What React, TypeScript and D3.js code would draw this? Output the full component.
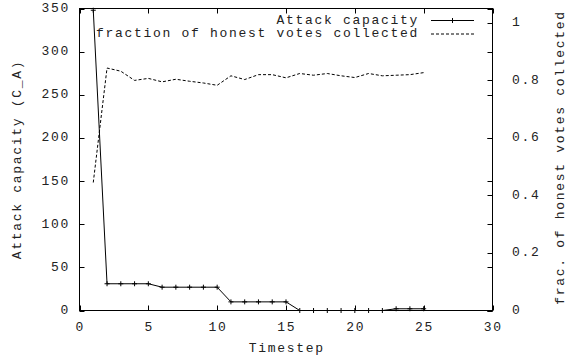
import React from "react";
import * as d3 from "d3";

const steps = [1, 2, 3, 4, 5, 6, 7, 8, 9, 10, 11, 12, 13, 14, 15, 16, 17, 18, 19, 20, 21, 22, 23, 24, 25];
const attackCapacity = [348, 31, 31, 31, 31, 27, 27, 27, 27, 27, 10, 10, 10, 10, 10, 0, 0, 0, 0, 0, 0, 0, 2, 2, 2];
const honestFraction = [0.445, 0.843, 0.832, 0.8, 0.807, 0.795, 0.804, 0.797, 0.791, 0.783, 0.816, 0.803, 0.82, 0.82, 0.809, 0.824, 0.818, 0.824, 0.816, 0.81, 0.824, 0.816, 0.818, 0.82, 0.827];
const xTicks = [0, 5, 10, 15, 20, 25, 30];
const yTicks = [0, 50, 100, 150, 200, 250, 300, 350];
const y2Ticks = [0, 0.2, 0.4, 0.6, 0.8, 1];
const y2TickLabels = ["0", "0.2", "0.4", "0.6", "0.8", "1"];
const seriesNames = ["Attack capacity", "fraction of honest votes collected"];
const xTitle = "Timestep";
const yTitle = "Attack capacity (C_A)";
const y2Title = "frac. of honest votes collected";

const W = 570, H = 356;
const L = 79.5, R = 492.5, T = 8.5, B = 310.5;
const FONT = "'Liberation Mono', 'DejaVu Sans Mono', monospace";
const FS = 13;
const LS = 1.7;

export default function App() {
  const x = d3.scaleLinear().domain([0, 30]).range([L, R]);
  const y = d3.scaleLinear().domain([0, 350]).range([B, T]);
  const y2 = d3.scaleLinear().domain([0, 1.05]).range([B, T]);
  const tl = 5;

  const attackLine = d3.line<number>().x((_, i) => x(steps[i])).y((d) => y(d))(attackCapacity) || "";
  const fracLine = d3.line<number>().x((_, i) => x(steps[i])).y((d) => y2(d))(honestFraction) || "";

  const textStyle = { fontFamily: FONT, fontSize: FS, letterSpacing: LS, fill: "#222" } as React.CSSProperties;
  const plus = (cx: number, cy: number, k: string) => (
    <path key={k} d={`M${cx - 2.5},${cy}H${cx + 2.5}M${cx},${cy - 2.5}V${cy + 2.5}`} stroke="#000" strokeWidth={1} />
  );

  const keyTextX = 419;
  const keyY1 = 20;
  const keyY2 = 33.5;
  const sampleX1 = 431, sampleX2 = 474;

  return (
    <svg width={W} height={H} style={{ position: "absolute", left: 0, top: 0, background: "#fff" }}>
      <rect x={0} y={0} width={W} height={H} fill="#fff" />
      <g stroke="#000" strokeWidth={1}>
        {xTicks.map((t) => (
          <g key={"xt" + t}>
            <line x1={Math.round(x(t)) + 0.5} x2={Math.round(x(t)) + 0.5} y1={B} y2={B - tl} />
            <line x1={Math.round(x(t)) + 0.5} x2={Math.round(x(t)) + 0.5} y1={T} y2={T + tl} />
          </g>
        ))}
        {yTicks.map((t) => (
          <g key={"yt" + t}>
            <line x1={L} x2={L + tl} y1={Math.round(y(t)) + 0.5} y2={Math.round(y(t)) + 0.5} />
            <line x1={R} x2={R - tl} y1={Math.round(y(t)) + 0.5} y2={Math.round(y(t)) + 0.5} />
          </g>
        ))}
        {y2Ticks.map((t) => (
          <line key={"y2t" + t} x1={R} x2={R - tl} y1={Math.round(y2(t)) + 0.5} y2={Math.round(y2(t)) + 0.5} />
        ))}
      </g>
      <rect x={L} y={T} width={R - L} height={B - T} fill="none" stroke="#000" strokeWidth={1} />
      {xTicks.map((t) => (
        <text key={"xl" + t} x={x(t) + LS / 2} y={327} textAnchor="middle" dominantBaseline="central" style={textStyle}>
          {t}
        </text>
      ))}
      {yTicks.map((t) => (
        <text key={"yl" + t} x={70} y={y(t)} textAnchor="end" dominantBaseline="central" style={textStyle}>
          {t}
        </text>
      ))}
      {y2Ticks.map((t, i) => (
        <text key={"y2l" + t} x={512} y={y2(t)} textAnchor="start" dominantBaseline="central" style={textStyle}>
          {y2TickLabels[i]}
        </text>
      ))}
      <text x={(L + R) / 2 + LS / 2} y={348} textAnchor="middle" dominantBaseline="central" style={textStyle}>
        {xTitle}
      </text>
      <text transform={`translate(17,${(T + B) / 2}) rotate(-90)`} textAnchor="middle" dominantBaseline="central" style={textStyle}>
        {yTitle}
      </text>
      <text transform={`translate(560,${(T + B) / 2 - 2}) rotate(-90)`} textAnchor="middle" dominantBaseline="central" style={textStyle}>
        {y2Title}
      </text>
      <path d={attackLine} fill="none" stroke="#000" strokeWidth={1} />
      {attackCapacity.map((v, i) => plus(x(steps[i]), y(v), "p" + i))}
      <path d={fracLine} fill="none" stroke="#000" strokeWidth={1} strokeDasharray="3,2" />
      <text x={keyTextX} y={keyY1} textAnchor="end" dominantBaseline="central" style={textStyle}>
        {seriesNames[0]}
      </text>
      <line x1={sampleX1} x2={sampleX2} y1={keyY1 + 0.5} y2={keyY1 + 0.5} stroke="#000" strokeWidth={1} />
      {plus((sampleX1 + sampleX2) / 2, keyY1 + 0.5, "kp")}
      <text x={keyTextX} y={keyY2} textAnchor="end" dominantBaseline="central" style={textStyle}>
        {seriesNames[1]}
      </text>
      <line x1={sampleX1} x2={sampleX2} y1={keyY2 + 0.5} y2={keyY2 + 0.5} stroke="#000" strokeWidth={1} strokeDasharray="3,2" />
    </svg>
  );
}
